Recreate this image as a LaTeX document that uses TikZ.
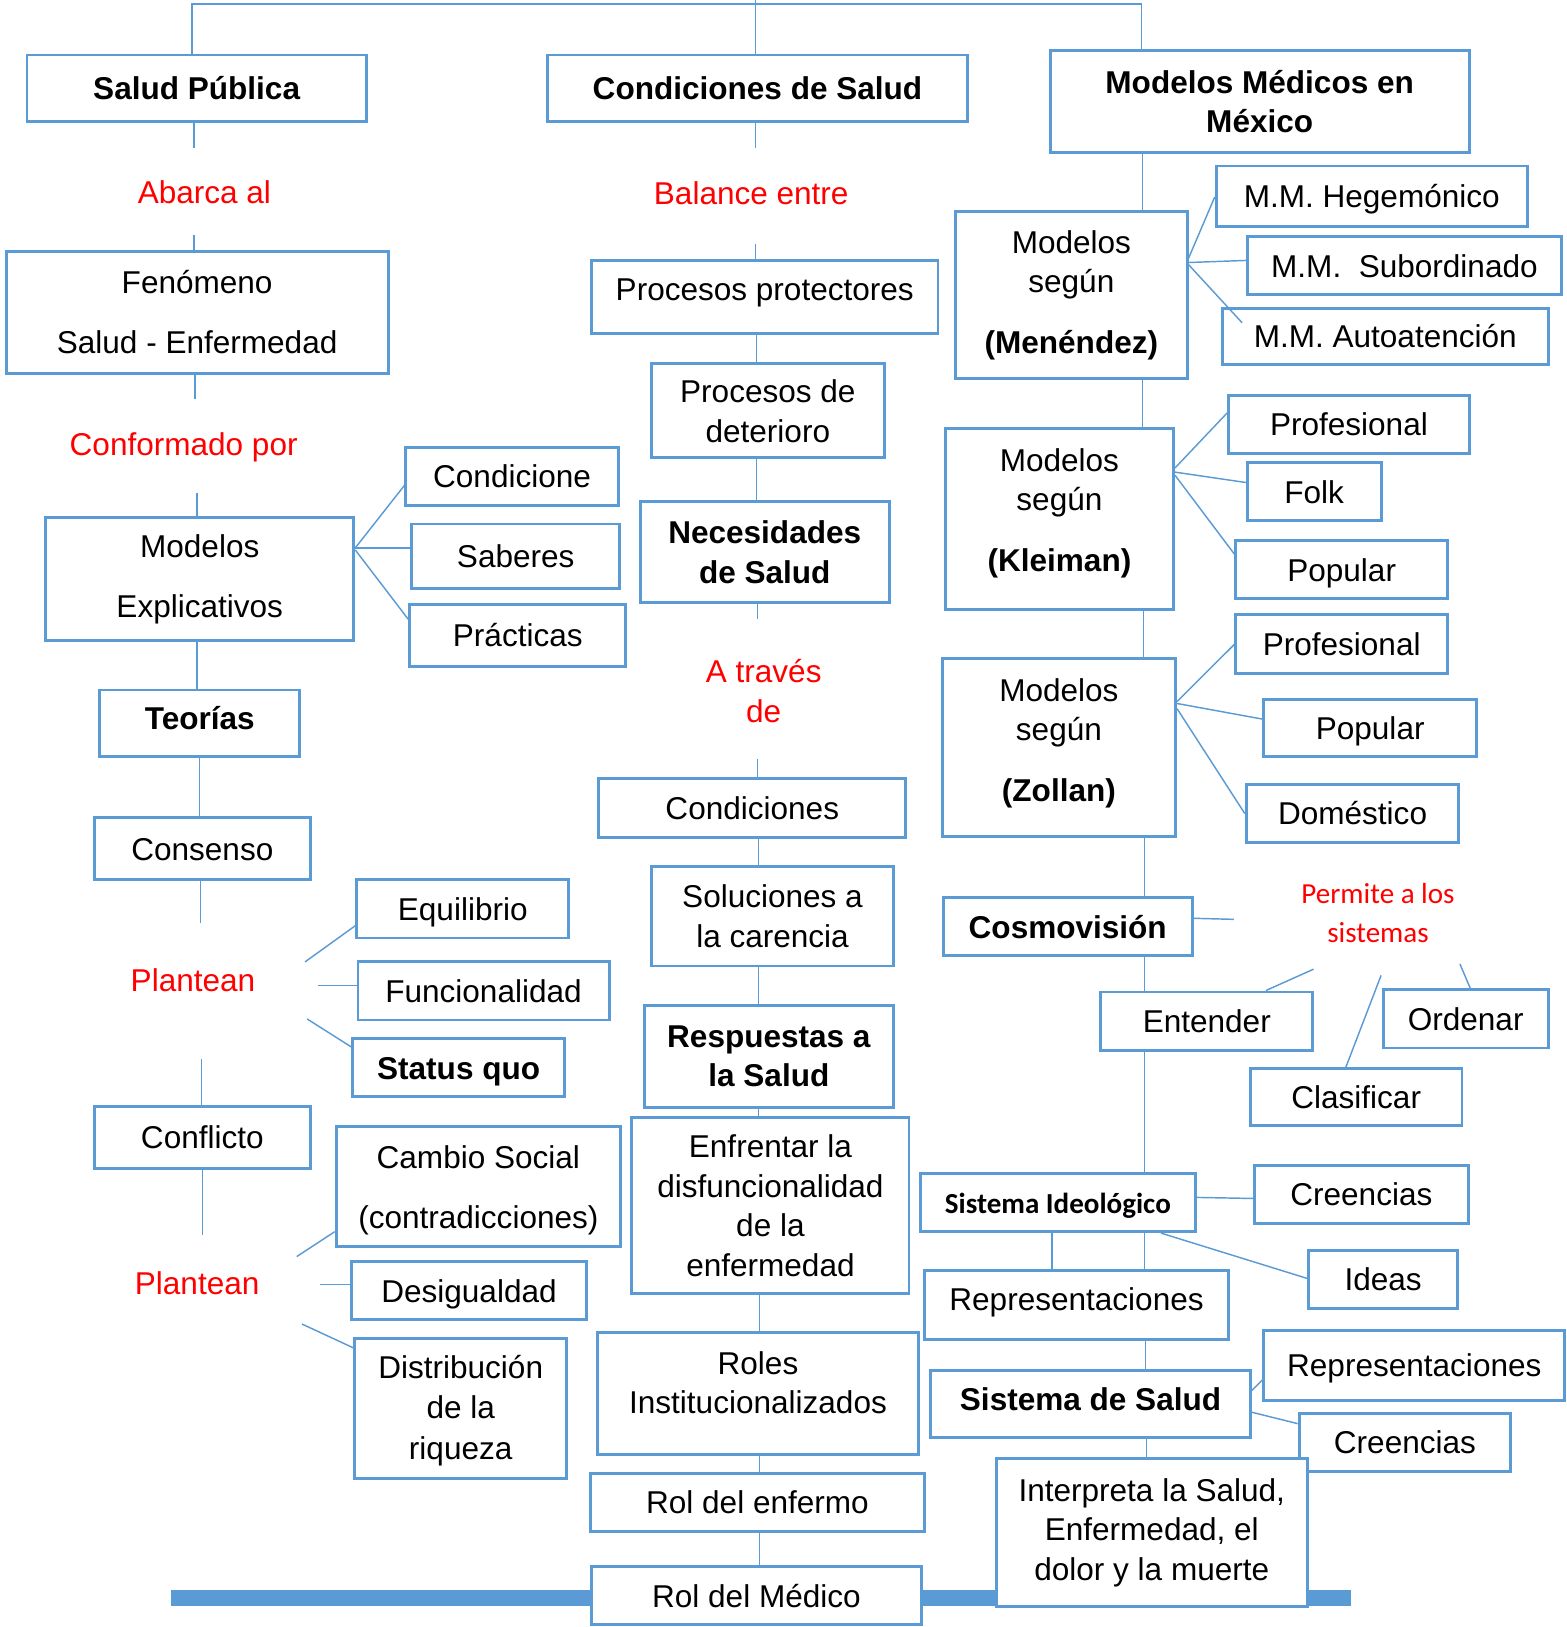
\documentclass[tikz,border=0pt]{standalone}
\usepackage{fontspec}
\setmainfont{Liberation Sans}
\newfontfamily\calibfont{Carlito}
\usetikzlibrary{calc}
\definecolor{boxblue}{HTML}{5B9BD5}
\newcommand\txtsz{\fontsize{15.2}{19}\selectfont}
\newcommand\sst{\vrule height 14.5pt depth 3.5pt width 0pt}
\newcommand\upby[2]{\raisebox{#1}[\height][\depth]{\begin{tabular}{@{}c@{}}#2\end{tabular}}}
\newcommand\bx[7][]{\node[box,#1,minimum width={(#5-#3)*0.5pt},minimum height={(#6-#4)*0.5pt}] (#2) at ({(#3+#5)/2},{(#4+#6)/2}) {#7};}
\begin{document}
\begin{tikzpicture}[x=0.5pt,y=-0.5pt,
  box/.style={draw=boxblue,line width=1.4pt,fill=white,align=center,inner sep=0pt,font=\txtsz},
  boldtxt/.style={font=\txtsz\bfseries},
  sidtxt/.style={font=\calibfont\fontsize{14}{17}\selectfont\bfseries},
  conn/.style={draw=boxblue,line width=0.7pt},
  lbl/.style={text=red,align=center,inner sep=0pt,font=\txtsz}]
\useasboundingbox (0,0) rectangle (1510,1568);
\fill[boxblue] (165,1532) rectangle (1302,1548);
% column 1
\bx[boldtxt]{sp}{26}{53}{353}{117}{\sst Salud Pública}
\bx{fen}{6}{242}{374}{360}{Fenómeno\\[10pt]Salud - Enfermedad}
\bx{me}{44}{499}{341}{617}{Modelos\\[10pt]Explicativos}
\bx{cnd}{391}{431}{596}{487}{\sst Condicione}
\bx{sab}{397}{505}{597}{567}{\sst Saberes}
\bx{pra}{395}{583}{603}{642}{\sst Prácticas}
\bx[boldtxt]{teo}{96}{665}{289}{729}{\upby{1.5pt}{\sst Teorías}}
\bx{con}{91}{788}{299}{848}{\sst Consenso}
\bx{eq}{344}{848}{548}{904}{\sst Equilibrio}
\bx{fun}{345}{927}{587}{983}{\sst Funcionalidad}
\bx[boldtxt]{stq}{340}{1001}{544}{1057}{\sst Status quo}
\bx{cfl}{91}{1066}{299}{1126}{\sst Conflicto}
\bx{cs}{324}{1086}{598}{1201}{\upby{-2pt}{Cambio Social\\[10pt](contradicciones)}}
\bx{des}{339}{1216}{565}{1272}{\sst Desigualdad}
\bx{dis}{342}{1290}{546}{1425}{\upby{-1pt}{Distribución\\[0.5pt]de la\\[0.5pt]riqueza}}
% column 2
\bx[boldtxt]{cds}{528}{53}{932}{117}{\sst Condiciones de Salud}
\bx{pp}{570}{251}{904}{321}{\upby{2.5pt}{\sst Procesos protectores}}
\bx{pd}{628}{350}{852}{441}{\upby{-2pt}{Procesos de\\deterioro}}
\bx[boldtxt]{ns}{617}{483}{857}{581}{Necesidades\\de Salud}
\bx{cnd2}{577}{750}{873}{807}{\sst Condiciones}
\bx{sol}{628}{835}{861}{931}{Soluciones a\\la carencia}
\bx[boldtxt]{rs}{621}{969}{861}{1067}{Respuestas a\\la Salud}
\bx{enf}{609}{1077}{876}{1247}{Enfrentar la\\disfuncionalidad\\de la\\enfermedad}
\bx{rol}{576}{1284}{885}{1402}{\upby{3.5pt}{Roles\\Institucionalizados}}
\bx{ren}{569}{1420}{891}{1476}{\sst Rol del enfermo}
\bx{rme}{570}{1510}{888}{1566}{\sst Rol del Médico}
% column 3
\bx[boldtxt]{mmm}{1012}{49}{1416}{147}{Modelos Médicos en\\México}
\bx{men}{921}{204}{1144}{365}{Modelos\\según\\[10.5pt]\textbf{(Menéndez)}}
\bx{heg}{1172}{160}{1472}{218}{\sst M.M. Hegemónico}
\bx{sub}{1202}{228}{1505}{284}{\sst M.M.\ \ Subordinado}
\bx{aut}{1178}{297}{1492}{351}{\sst M.M. Autoatención}
\bx{kle}{911}{413}{1131}{587}{\upby{2.5pt}{Modelos\\según\\[10.5pt]\textbf{(Kleiman)}}}
\bx{prf1}{1184}{381}{1416}{437}{\sst Profesional}
\bx{folk}{1202}{446}{1331}{502}{\sst Folk}
\bx{pop1}{1191}{521}{1395}{577}{\sst Popular}
\bx{zol}{908}{635}{1133}{806}{\upby{2pt}{Modelos\\según\\[10.5pt]\textbf{(Zollan)}}}
\bx{prf2}{1191}{592}{1395}{649}{\sst Profesional}
\bx{pop2}{1218}{674}{1423}{729}{\sst Popular}
\bx{dom}{1201}{756}{1406}{812}{\sst Doméstico}
\bx[boldtxt]{cos}{909}{865}{1149}{921}{\sst Cosmovisión}
\bx{ent}{1061}{956}{1265}{1012}{\sst Entender}
\bx{ord}{1333}{954}{1492}{1010}{\sst Ordenar}
\bx{cla}{1205}{1030}{1409}{1085}{\sst Clasificar}
\bx[sidtxt]{sid}{887}{1131}{1152}{1187}{\vrule height 13.5pt depth 3.5pt width 0pt Sistema Ideológico}
\bx{cre1}{1209}{1123}{1415}{1179}{\sst Creencias}
\bx{ide}{1261}{1205}{1405}{1261}{\sst Ideas}
\bx{rep}{891}{1224}{1184}{1291}{\upby{1.5pt}{\sst Representaciones}}
\bx[boldtxt]{ss}{897}{1321}{1205}{1385}{\upby{1pt}{\sst Sistema de Salud}}
\bx{rep2}{1218}{1282}{1508}{1350}{\sst Representaciones}
\bx{cre2}{1252}{1362}{1456}{1418}{\sst Creencias}
\bx{int}{960}{1406}{1260}{1548}{Interpreta la Salud,\\Enfermedad, el\\dolor y la muerte}
% red labels
\node[lbl] (lab1) at (197,185) {\sst Abarca al};
\node[lbl] (lab2) at (724,186) {\sst Balance entre};
\node[lbl] (lab3) at (177,428) {\sst Conformado por};
\node[lbl] (lab4) at (736,666) {A través\\de};
\node[lbl] (lab5) at (186,945) {\sst Plantean};
\node[lbl] (lab6) at (190,1237) {\sst Plantean};
\node[lbl,font=\calibfont\fontsize{14}{18.5}\selectfont] (lab7) at (1328,880) {Permite a los\\sistemas};
% free ends
\coordinate (tl) at (185,4); \coordinate (tr) at (1100,4); \coordinate (d0) at (728,0);
\coordinate (c1) at (187,143); \coordinate (c2) at (187,226); \coordinate (c3) at (188,385);
\coordinate (c4) at (190,475); \coordinate (c5) at (193,890); \coordinate (c6) at (194,1021);
\coordinate (c7) at (195,1190);
\coordinate (p1a) at (294,927); \coordinate (p1b) at (306,950); \coordinate (p1c) at (296,982);
\coordinate (p2a) at (286,1211); \coordinate (p2b) at (308,1238); \coordinate (p2c) at (291,1276);
\coordinate (d1) at (728,143); \coordinate (d2) at (728,235); \coordinate (d3) at (730,597); \coordinate (d4) at (730,731);
\coordinate (aue) at (1197,311);
\coordinate (pe0) at (1189,886); \coordinate (pe1) at (1266,934); \coordinate (pe2) at (1331,940); \coordinate (pe3) at (1407,929);
% top
\draw[conn] (sp.north -| tl) -- (tl) -- (tr) -- (mmm.north -| tr);
\draw[conn] (d0) -- (cds.north -| d0);
% column 1 connectors
\draw[conn] (sp.south -| c1) -- (c1);
\draw[conn] (c2) -- (fen.north -| c2);
\draw[conn] (fen.south -| c3) -- (c3);
\draw[conn] (c4) -- (me.north -| c4);
\draw[conn] (me.south -| c4) -- (teo.north -| c4);
\draw[conn] (teo.south -| 192,0) -- (con.north -| 192,0);
\draw[conn] (con.south -| c5) -- (c5);
\draw[conn] (c6) -- (cfl.north -| c6);
\draw[conn] (cfl.south -| c7) -- (c7);
\draw[conn] (me.east |- 0,528) -- (cnd.west |- 0,468);
\draw[conn] (me.east |- 0,528) -- (sab.west |- 0,528);
\draw[conn] (me.east |- 0,530) -- (pra.west |- 0,597);
\draw[conn] (p1a) -- (eq.west |- 0,892);
\draw[conn] (p1b) -- (fun.west |- 0,950);
\draw[conn] (p1c) -- (stq.west |- 0,1009);
\draw[conn] (p2a) -- (cs.west |- 0,1187);
\draw[conn] (p2b) -- (des.west |- 0,1238);
\draw[conn] (p2c) -- (dis.west |- 0,1299);
% column 2 connectors
\draw[conn] (cds.south -| d1) -- (d1);
\draw[conn] (d2) -- (pp.north -| d2);
\draw[conn] (pp.south -| 729,0) -- (pd.north -| 729,0);
\draw[conn] (pd.south -| 729,0) -- (ns.north -| 729,0);
\draw[conn] (ns.south -| d3) -- (d3);
\draw[conn] (d4) -- (cnd2.north -| d4);
\draw[conn] (cnd2.south -| 731,0) -- (sol.north -| 731,0);
\draw[conn] (sol.south -| 731,0) -- (rs.north -| 731,0);
\draw[conn] (rs.south -| 731,0) -- (enf.north -| 731,0);
\draw[conn] (enf.south -| 732,0) -- (rol.north -| 732,0);
\draw[conn] (rol.south -| 732,0) -- (ren.north -| 732,0);
\draw[conn] (ren.south -| 732,0) -- (rme.north -| 732,0);
% column 3 connectors
\draw[conn] (mmm.south -| 1101,0) -- (men.north -| 1101,0);
\draw[conn] (men.south -| 1101,0) -- (kle.north -| 1101,0);
\draw[conn] (kle.south -| 1102,0) -- (zol.north -| 1102,0);
\draw[conn] (zol.south -| 1103,0) -- (cos.north -| 1103,0);
\draw[conn] (cos.south -| 1103,0) -- (ent.north -| 1103,0);
\draw[conn] (ent.south -| 1103,0) -- (sid.north -| 1103,0);
\draw[conn] (sid.south -| 1103,0) -- (rep.north -| 1103,0);
\draw[conn] (sid.south -| 1014,0) -- (rep.north -| 1014,0);
\draw[conn] (rep.south -| 1104,0) -- (ss.north -| 1104,0);
\draw[conn] (ss.south -| 1105,0) -- (int.north -| 1105,0);
\draw[conn] (men.east |- 0,249) -- (heg.west |- 0,190);
\draw[conn] (men.east |- 0,253) -- (sub.west |- 0,251);
\draw[conn] (men.east |- 0,255) -- (aue);
\draw[conn] (kle.east |- 0,451) -- (prf1.west |- 0,398);
\draw[conn] (kle.east |- 0,455) -- (folk.west |- 0,465);
\draw[conn] (kle.east |- 0,458) -- (pop1.west |- 0,534);
\draw[conn] (zol.east |- 0,676) -- (prf2.west |- 0,621);
\draw[conn] (zol.east |- 0,678) -- (pop2.west |- 0,693);
\draw[conn] (zol.east |- 0,683) -- (dom.west |- 0,784);
\draw[conn] (cos.east |- 0,885) -- (pe0);
\draw[conn] (pe1) -- (1220,0 |- ent.north);
\draw[conn] (pe2) -- (1297,0 |- cla.north);
\draw[conn] (pe3) -- (1417,0 |- ord.north);
\draw[conn] (sid.east |- 0,1154) -- (cre1.west |- 0,1155);
\draw[conn] (1119,0 |- sid.south) -- (ide.west |- 0,1232);
\draw[conn] (ss.east |- 0,1340) -- (rep2.west |- 0,1330);
\draw[conn] (ss.east |- 0,1361) -- (cre2.west |- 0,1372);
\end{tikzpicture}
\end{document}
